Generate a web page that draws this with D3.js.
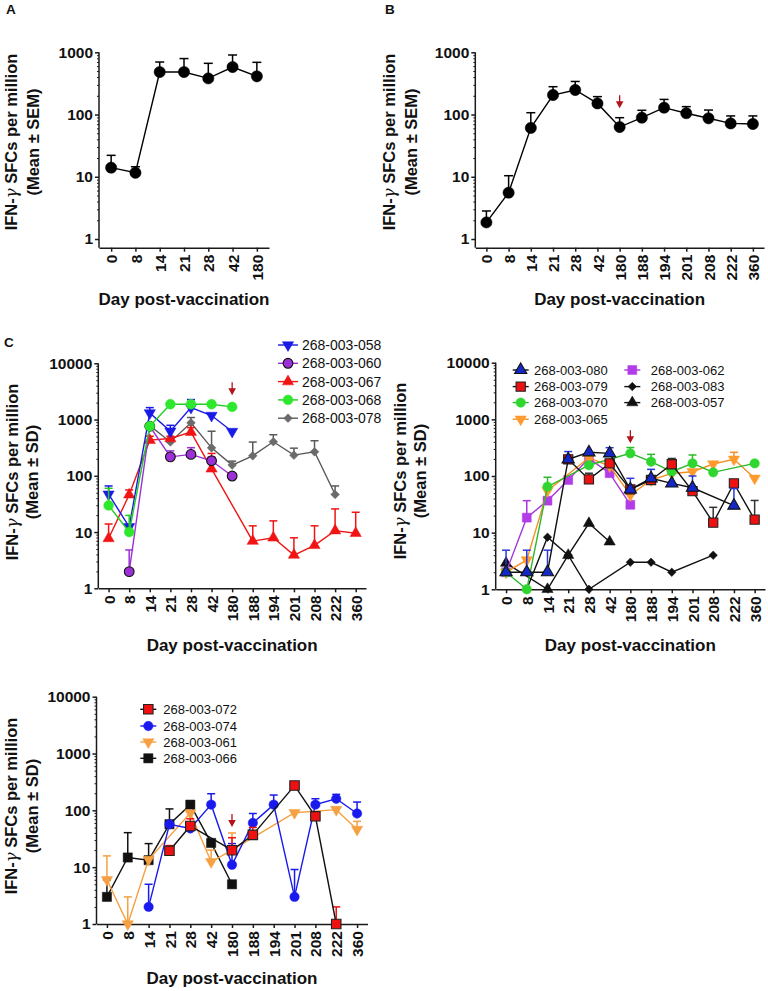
<!DOCTYPE html>
<html><head><meta charset="utf-8">
<script src="https://cdn.jsdelivr.net/npm/d3@7"></script>
<style>body{margin:0;background:#fff}</style>
</head><body>
<svg id="c" width="768" height="991" xmlns="http://www.w3.org/2000/svg"></svg>
<script>
// ---------------- DATA ----------------
const days7 = ["0","8","14","21","28","42","180"];
const days13 = ["0","8","14","21","28","42","180","188","194","201","208","222","360"];
const yTicks3 = [1, 10, 100, 1000];
const yTicks4 = [1, 10, 100, 1000, 10000];

// Panel A (mean and mean+SEM)
const meanA = [14, 11.6, 482, 482, 381, 580, 411];
const topA  = [22.1, 14.5, 698, 793, 665, 905, 690];

// Panel B
const meanB = [1.85, 5.55, 61, 206, 248, 151, 63, 89, 129, 105, 87, 72, 70.5];
const topB  = [2.82, 10.4, 107, 280, 340, 194, 89, 117, 175, 134, 118, 95, 95];

// Panel C left
const c058 = [47, 12.4, 1310, 620, 1630, 1180, 612, null, null, null, null, null, null];
const c058Top = [66, null, 1630, 790, 2265, null, null, null, null, null, null, null, null];
const c060 = [null, 1.98, 760, 217, 240, 185, 99, null, null, null, null, null, null];
const c060Top = [null, 4.8, null, 277, 316, 215, null, null, null, null, null, null, null];
const c067 = [7.7, 46, 430, 460, 596, 133, null, 6.9, 7.9, 3.9, 5.8, 10.6, 9.5];
const c067Top = [13.9, 56, 505, 505, 720, 250, null, 12.9, 15.8, 7.9, 12.9, 25.8, 22.5];
const c068 = [29.7, 10, 760, 1870, 1870, 1870, 1680, null, null, null, null, null, null];
const c068Top = [60, 19.8, null, null, null, null, null, null, null, null, null, null, null];
const c078 = [null, null, 780, 400, 875, 314, 155, 227, 403, 233, 267, 46.5, null];
const c078Top = [null, null, null, null, 1086, 620, 182, 398, 537, 310, 420, 66, null];

// Panel C right
const r080 = [2, 2, 2, 197, 262, 251, 58, 91, 74, 62, null, 30, null];
const r080Top = [4.9, 4.9, 4.9, 270, null, 316, 91, 131, null, 100, null, 60, null];
const r079 = [null, null, null, 197, 87, 167, 58, 85, 161, 54, 15, 74, 17];
const r079Top = [null, null, null, null, 112, null, null, null, 204, null, 28, null, 37];
const r070 = [2, 1, 65, null, 155, null, 251, 179, 119, 167, 116, null, 167];
const r070Top = [null, null, 95, null, null, null, 318, 241, null, 235, null, null, null];
const r065 = [2, 3.3, 55, null, 210, 150, 46, 85, 111, 119, 163, 197, 91];
const r065Top = [null, null, null, null, null, null, null, null, null, null, null, 262, null];
const r062 = [2, 18.4, 36.7, 85, 205, 112, 31, null, null, null, null, null, null];
const r062Top = [null, 36.7, null, null, null, null, null, null, null, null, null, null, null];
const r083 = [null, 1, 8.3, 4, 1, null, 3, 3, 2, null, 4, null, null];
const r057 = [2.9, null, 1, 4, 14.6, 6.9, null, null, null, null, null, null, null];

// Panel D
const d072 = [null, null, null, 19.4, 53, null, 19.9, 37, null, 273, 78.5, 1, null];
const d072Top = [null, null, null, 24, 71, null, 33, 50, null, null, null, 2, null];
const d074 = [null, null, 2, 57, 48, 126, 11, 60, 126, 3, 126, 160, 88];
const d074Top = [null, null, 5, null, null, 196, 26, 88, 186, 9.1, 160, 191, 140];
const d061 = [6, 1, 13.6, null, 90, 12.4, 20, null, null, 91, null, 103, 46];
const d061Top = [15.8, 3, null, null, null, 20, 40, null, null, null, null, null, 64];
const d066 = [3, 14.8, 13.3, 57, 126, 26.7, 5, null, null, null, null, null, null];
const d066Top = [6, 40.5, 26, 106, null, null, null, null, null, null, null, null, null];

// booster arrows (day, value at arrow tip)
const arrowB = {day: "180", value: 126};
const arrowC1 = {day: "180", value: 2700};
const arrowC2 = {day: "180", value: 380};
const arrowD = {day: "180", value: 51};

// ---------------- DRAW ----------------
const FONT = "'Liberation Sans', Arial, Helvetica, sans-serif";
const svg = d3.select("#c").style("font-family", FONT);
const AX = "#1a1a1a";
const ARROW = "#b3141c";

function shapeFor(name) {
  return {circle: d3.symbolCircle, square: d3.symbolSquare, tri: d3.symbolTriangle,
          tridown: d3.symbolTriangle, diamond: d3.symbolSquare}[name];
}
function rotFor(name) { return name === "tridown" ? 180 : (name === "diamond" ? 45 : 0); }

function marker(g, s, cx, cy) {
  g.append("path")
    .attr("d", d3.symbol().type(shapeFor(s.shape)).size(s.size)())
    .attr("transform", `translate(${cx},${cy}) rotate(${rotFor(s.shape)})`)
    .attr("fill", s.fill)
    .attr("stroke", s.stroke || s.fill)
    .attr("stroke-width", s.stroke ? 1.1 : 0.5);
}

function drawPanel(p) {
  const g = svg.append("g");
  const x = d3.scalePoint().domain(p.cats).range([p.x0, p.x1]).padding(0.5);
  const y = d3.scaleLog().domain(p.domain).range([p.yB, p.yT]);

  // Y axis (major)
  const ya = g.append("g").attr("transform", `translate(${p.x0},0)`)
    .call(d3.axisLeft(y).tickValues(p.yticks).tickFormat(d3.format("d")).tickSize(4).tickSizeOuter(0).tickPadding(2));
  // The axis line should stop at the top tick
  ya.select(".domain").attr("d", `M0,${p.yB}V${y(p.yticks[p.yticks.length-1])}`);
  ya.selectAll("path,line").attr("stroke", AX).attr("stroke-width", 1.5);
  ya.selectAll("text").attr("font-size", 15.5).attr("font-weight", "bold").attr("fill", "#111").attr("font-family", FONT);

  // minor ticks
  const minors = [];
  p.yticks.slice(0, -1).forEach(t => { for (let k = 2; k <= 9; k++) minors.push(t * k); });
  const ym = g.append("g").attr("transform", `translate(${p.x0},0)`)
    .call(d3.axisLeft(y).tickValues(minors).tickFormat("").tickSize(2).tickSizeOuter(0));
  ym.select(".domain").remove();
  ym.selectAll("line").attr("stroke", AX).attr("stroke-width", 1);

  // X axis
  const xa = g.append("g").attr("transform", `translate(0,${p.yB})`)
    .call(d3.axisBottom(x).tickSize(4).tickSizeOuter(0));
  xa.selectAll("path,line").attr("stroke", AX).attr("stroke-width", 1.5);
  xa.selectAll("text")
    .attr("font-size", 15.5).attr("font-weight", "bold").attr("fill", "#111").attr("font-family", FONT)
    .attr("x", 0).attr("y", 0).attr("dy", "0.36em")
    .attr("text-anchor", "end")
    .attr("transform", "translate(0,7) rotate(-90)");

  // Axis titles
  g.append("text").attr("x", (p.x0 + p.x1) / 2).attr("y", p.xTitleY)
    .attr("text-anchor", "middle").attr("font-size", 17).attr("font-weight", "bold").attr("fill", "#111")
    .text("Day post-vaccination");
  const yt = g.append("g").attr("transform", `translate(0,${p.yTitleC})`);
  const t1 = yt.append("text").attr("transform", `translate(${p.yTitleX1},0) rotate(-90)`)
    .attr("text-anchor", "middle").attr("font-size", 16.5).attr("font-weight", "bold").attr("fill", "#111");
  t1.append("tspan").text("IFN-");
  t1.append("tspan").attr("font-style", "italic").attr("font-weight", "normal").attr("font-family", "'DejaVu Serif', serif").text("γ");
  t1.append("tspan").text(" SFCs per million");
  yt.append("text").attr("transform", `translate(${p.yTitleX2},0) rotate(-90)`)
    .attr("text-anchor", "middle").attr("font-size", 16.5).attr("font-weight", "bold").attr("fill", "#111")
    .text(p.yTitle2);

  // Panel letter
  if (p.letter) {
    g.append("text").attr("x", p.letter.x).attr("y", p.letter.y).attr("font-size", 13.5)
      .attr("font-weight", "bold").attr("fill", "#111").text(p.letter.t);
  }

  // Series
  p.series.forEach(s => {
    const pts = p.cats.map((c, i) => ({c, v: s.values[i], t: s.tops ? s.tops[i] : null}))
      .filter(d => d.v != null);
    const sg = g.append("g");
    // error bars (upper)
    pts.filter(d => d.t != null).forEach(d => {
      const cx = x(d.c);
      sg.append("line").attr("x1", cx).attr("x2", cx).attr("y1", y(d.v)).attr("y2", y(d.t))
        .attr("stroke", s.err || s.line).attr("stroke-width", 1.5);
      sg.append("line").attr("x1", cx - p.cap).attr("x2", cx + p.cap).attr("y1", y(d.t)).attr("y2", y(d.t))
        .attr("stroke", s.err || s.line).attr("stroke-width", 1.5);
    });
    sg.append("path").datum(pts)
      .attr("d", d3.line().x(d => x(d.c)).y(d => y(d.v)))
      .attr("fill", "none").attr("stroke", s.line).attr("stroke-width", 1.4);
    pts.forEach(d => marker(sg, s, x(d.c), y(d.v)));
  });

  // Arrow
  if (p.arrow) {
    const ax = x(p.arrow.day), ay = y(p.arrow.value);
    g.append("line").attr("x1", ax).attr("x2", ax).attr("y1", ay - 13).attr("y2", ay - 5)
      .attr("stroke", ARROW).attr("stroke-width", 1.3);
    g.append("path").attr("d", `M${ax - 3.8},${ay - 7}L${ax + 3.8},${ay - 7}L${ax},${ay}Z`).attr("fill", ARROW);
  }

  // Legend
  if (p.legend) {
    p.legend.items.forEach(it => {
      const s = p.series.find(q => q.name === it.name);
      const lg = g.append("g");
      lg.append("line").attr("x1", it.sx - p.legend.half).attr("x2", it.sx + p.legend.half)
        .attr("y1", it.y).attr("y2", it.y).attr("stroke", s.line).attr("stroke-width", 1.4);
      marker(lg, s, it.sx, it.y);
      lg.append("text").attr("x", it.tx).attr("y", it.y).attr("dy", "0.36em")
        .attr("font-size", p.legend.fs).attr("fill", "#111").text(s.name);
    });
  }
}

// Panel A
drawPanel({
  cats: days7, x0: 99, x1: 269, yB: 247.7, yT: 52.3, domain: [0.725, 1000], yticks: yTicks3,
  xTitleY: 305, yTitleC: 142, yTitleX1: 17, yTitleX2: 39, yTitle2: "(Mean ± SEM)", cap: 4.5,
  letter: {t: "A", x: 6, y: 14},
  series: [{name: "A", values: meanA, tops: topA, shape: "circle", size: 100, fill: "#000", line: "#000"}]
});

// Panel B
drawPanel({
  cats: days13, x0: 475.3, x1: 764, yB: 247.7, yT: 52.3, domain: [0.725, 1000], yticks: yTicks3,
  xTitleY: 305, yTitleC: 142, yTitleX1: 395, yTitleX2: 417, yTitle2: "(Mean ± SEM)", cap: 4.5,
  letter: {t: "B", x: 385, y: 14},
  arrow: arrowB,
  series: [{name: "B", values: meanB, tops: topB, shape: "circle", size: 100, fill: "#000", line: "#000"}]
});

// Panel C left
drawPanel({
  cats: days13, x0: 98.3, x1: 366, yB: 588.3, yT: 363.3, domain: [1, 10000], yticks: yTicks4,
  xTitleY: 651, yTitleC: 472, yTitleX1: 18, yTitleX2: 38, yTitle2: "(Mean ± SD)", cap: 4,
  letter: {t: "C", x: 4, y: 347},
  arrow: arrowC1,
  series: [
    {name: "268-003-078", values: c078, tops: c078Top, shape: "diamond", size: 38, fill: "#6b6b6b", line: "#5a5a5a"},
    {name: "268-003-067", values: c067, tops: c067Top, shape: "tri", size: 55, fill: "#f01414", line: "#f01414"},
    {name: "268-003-060", values: c060, tops: c060Top, shape: "circle", size: 75, fill: "#9b30d6", stroke: "#111", line: "#9b30d6"},
    {name: "268-003-058", values: c058, tops: c058Top, shape: "tridown", size: 55, fill: "#1a1ae6", line: "#1a1ae6"},
    {name: "268-003-068", values: c068, tops: c068Top, shape: "circle", size: 75, fill: "#2ee82e", line: "#22cc22"}
  ],
  legend: {fs: 14, half: 10, items: [
    {name: "268-003-058", sx: 288, tx: 302, y: 345},
    {name: "268-003-060", sx: 288, tx: 302, y: 363.3},
    {name: "268-003-067", sx: 288, tx: 302, y: 381.6},
    {name: "268-003-068", sx: 288, tx: 302, y: 399.9},
    {name: "268-003-078", sx: 288, tx: 302, y: 418.2}
  ]}
});

// Panel C right
drawPanel({
  cats: days13, x0: 495.7, x1: 765, yB: 589.3, yT: 362.7, domain: [1, 10000], yticks: yTicks4,
  xTitleY: 651, yTitleC: 471, yTitleX1: 405.5, yTitleX2: 425.5, yTitle2: "(Mean ± SD)", cap: 4,
  arrow: arrowC2,
  series: [
    {name: "268-003-057", values: r057, tops: null, shape: "tri", size: 55, fill: "#111", line: "#111"},
    {name: "268-003-083", values: r083, tops: null, shape: "diamond", size: 36, fill: "#111", line: "#111"},
    {name: "268-003-062", values: r062, tops: r062Top, shape: "square", size: 80, fill: "#b23ce8", line: "#a535dd"},
    {name: "268-003-065", values: r065, tops: r065Top, shape: "tridown", size: 55, fill: "#ff9a2e", line: "#f59024"},
    {name: "268-003-070", values: r070, tops: r070Top, shape: "circle", size: 70, fill: "#2fd62f", line: "#2bb82b"},
    {name: "268-003-079", values: r079, tops: r079Top, shape: "square", size: 85, fill: "#ee1111", stroke: "#222", line: "#111", err: "#333"},
    {name: "268-003-080", values: r080, tops: r080Top, shape: "tri", size: 65, fill: "#1428c8", stroke: "#111", line: "#111", err: "#2a3ad8"}
  ],
  legend: {fs: 13, half: 8, items: [
    {name: "268-003-080", sx: 520.7, tx: 534, y: 370},
    {name: "268-003-079", sx: 520.7, tx: 534, y: 386.6},
    {name: "268-003-070", sx: 520.7, tx: 534, y: 402.6},
    {name: "268-003-065", sx: 520.7, tx: 534, y: 419.2},
    {name: "268-003-062", sx: 632.3, tx: 650.7, y: 370},
    {name: "268-003-083", sx: 632.3, tx: 650.7, y: 386.6},
    {name: "268-003-057", sx: 632.3, tx: 650.7, y: 402.6}
  ]}
});

// Panel D
drawPanel({
  cats: days13, x0: 96.5, x1: 367.5, yB: 924, yT: 696.7, domain: [1, 10000], yticks: yTicks4,
  xTitleY: 984, yTitleC: 806, yTitleX1: 16.5, yTitleX2: 38, yTitle2: "(Mean ± SD)", cap: 4,
  arrow: arrowD,
  series: [
    {name: "268-003-066", values: d066, tops: d066Top, shape: "square", size: 85, fill: "#111", line: "#111"},
    {name: "268-003-061", values: d061, tops: d061Top, shape: "tridown", size: 55, fill: "#f5a042", line: "#f5a042"},
    {name: "268-003-074", values: d074, tops: d074Top, shape: "circle", size: 70, fill: "#1a1aee", line: "#1a1aee"},
    {name: "268-003-072", values: d072, tops: d072Top, shape: "square", size: 90, fill: "#ee1111", stroke: "#222", line: "#111", err: "#ee1111"}
  ],
  legend: {fs: 13, half: 8, items: [
    {name: "268-003-072", sx: 148.3, tx: 163.3, y: 709.3},
    {name: "268-003-074", sx: 148.3, tx: 163.3, y: 726},
    {name: "268-003-061", sx: 148.3, tx: 163.3, y: 742},
    {name: "268-003-066", sx: 148.3, tx: 163.3, y: 758.3}
  ]}
});
</script>
</body></html>
